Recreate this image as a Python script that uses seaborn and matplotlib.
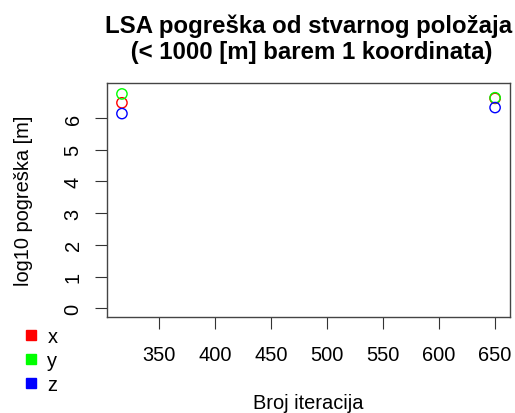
import numpy as np
import pandas as pd
import matplotlib
matplotlib.use("Agg")
import matplotlib.pyplot as plt
from matplotlib.lines import Line2D
import seaborn as sns

# podaci ocitani sa slike
iteracije = [317, 650]
greska_x = [6.48, 6.62]
greska_y = [6.76, 6.64]
greska_z = [6.14, 6.33]
koordinate = ["x", "y", "z"]
boje = ["#ff0000", "#00ff00", "#0000ff"]

df = pd.DataFrame({
    "iter": iteracije * 3,
    "log_err": greska_x + greska_y + greska_z,
    "koord": np.repeat(koordinate, len(iteracije)),
})

sns.set_style("white")
plt.rcParams["font.family"] = ["Liberation Sans", "DejaVu Sans"]
plt.rcParams["text.color"] = "black"

fig = plt.figure(figsize=(5.15, 4.14), dpi=100)
ax = fig.add_axes([0.2078, 0.2319, 0.7825, 0.5651])

sns.scatterplot(data=df, x="iter", y="log_err", hue="koord", palette=boje,
                marker="o", s=55, linewidth=1.0, legend=False, ax=ax)
# otvoreni kruzici kao u R-u (pch=1)
coll = ax.collections[0]
coll.set_edgecolors(coll.get_facecolors())
coll.set_facecolors("none")

# R-ov raspon osi (4% prosirenja)
x0, x1 = min(iteracije), max(iteracije)
dx = (x1 - x0) * 0.04
ax.set_xlim(x0 - dx, x1 + dx)
ymax = 6.83
ax.set_ylim(-0.04 * ymax, ymax * 1.04)

ax.set_xticks(np.arange(350, 651, 50))
ax.set_yticks(np.arange(0, 7, 1))
ax.tick_params(axis="both", direction="out", length=8.5, width=0.8,
               color="#333333", labelsize=14.4, labelcolor="black",
               bottom=True, left=True)
ax.tick_params(axis="x", pad=12)
ax.tick_params(axis="y", pad=9)
for lab in ax.get_yticklabels():
    lab.set_rotation(90)
    lab.set_va("center")

for sp in ax.spines.values():
    sp.set_visible(True)
    sp.set_color("#444444")
    sp.set_linewidth(1.0)

ax.set_xlabel("Broj iteracija", fontsize=14.4, color="black")
ax.set_ylabel("log10 pogreška [m]", fontsize=14.4, color="black")
ax.xaxis.set_label_coords(0.5, -0.367)
ax.yaxis.set_label_coords(-0.207, 0.5)
ax.xaxis.label.set_va("center")
ax.yaxis.label.set_va("center")
ax.set_title("LSA pogreška od stvarnog položaja\n (< 1000 [m] barem 1 koordinata)",
             fontsize=17.3, fontweight="bold", pad=18, linespacing=1.17,
             color="black")

handles = [Line2D([], [], marker="s", color=c, linestyle="none", markersize=7)
           for c in boje]
fig.legend(handles, koordinate, loc="upper left", bbox_to_anchor=(0.022, 0.233),
           frameon=False, fontsize=14.4, handlelength=1.0, handletextpad=0.3,
           labelspacing=0.25, borderpad=0)

fig.savefig("out.png", dpi=100)
